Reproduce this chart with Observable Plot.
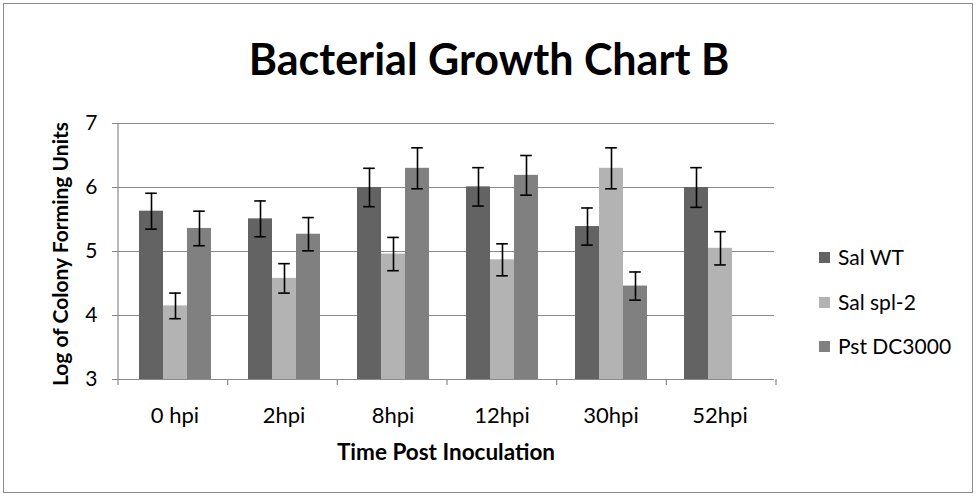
<!DOCTYPE html>
<html><head><meta charset="utf-8">
<script src="https://cdn.jsdelivr.net/npm/d3@7"></script>
<script src="https://cdn.jsdelivr.net/npm/@observablehq/plot@0.6"></script>
<style>
body{margin:0;background:#fff;}
#chart{position:relative;width:979px;height:498px;font-family:Lato,"Open Sans",sans-serif;color:#000;overflow:hidden;}
#border{position:absolute;left:3px;top:3px;width:970px;height:490px;border:1px solid #8a8a8a;box-sizing:border-box;}
#title{position:absolute;left:489px;top:34px;transform:translateX(-50%);text-align:center;font-weight:bold;font-size:43px;line-height:50px;white-space:nowrap;}
#ylabel{position:absolute;left:60px;top:254px;transform:translate(-50%,-50%) rotate(-90deg);white-space:nowrap;font-weight:bold;font-size:21px;line-height:26px;}
#xlabel{position:absolute;left:446px;top:441px;transform:translateX(-50%);white-space:nowrap;font-weight:bold;font-size:22.5px;line-height:22px;}
#legend{position:absolute;left:819px;top:0;}
.li{position:absolute;left:0;white-space:nowrap;font-size:21px;line-height:26px;transform:translateY(-50%);display:flex;align-items:center;}
.sw{display:inline-block;width:11px;height:11px;margin-right:8px;}
#plot{position:absolute;left:0;top:0;}
</style></head><body>
<div id="chart">
  <div id="border"></div>
  <div id="plot"></div>
  <div id="title">Bacterial Growth Chart B</div>
  <div id="ylabel">Log of Colony Forming Units</div>
  <div id="xlabel">Time Post Inoculation</div>
  <div id="legend"></div>
</div>
<script>
const times = ["0 hpi","2hpi","8hpi","12hpi","30hpi","52hpi"];
const seriesNames = ["Sal WT","Sal spl-2","Pst DC3000"];
const seriesColors = ["#636363","#b3b3b3","#808080"];
const salWT = [5.63,5.51,6.00,6.01,5.39,6.00];
const salWTErr = [0.28,0.28,0.30,0.30,0.29,0.31];
const salSpl2 = [4.15,4.58,4.96,4.87,6.30,5.05];
const salSpl2Err = [0.20,0.23,0.26,0.25,0.32,0.26];
const pstDC3000 = [5.36,5.27,6.30,6.19,4.46,null];
const pstDC3000Err = [0.27,0.26,0.32,0.31,0.22,null];
const yTicks = [3,4,5,6,7];

const values = [salWT, salSpl2, pstDC3000];
const errs = [salWTErr, salSpl2Err, pstDC3000Err];
const rows = [];
times.forEach((t, i) => seriesNames.forEach((s, j) => {
  if (values[j][i] != null) rows.push({time: t, series: s, value: values[j][i], lo: values[j][i] - errs[j][i], hi: values[j][i] + errs[j][i]});
}));
const base = yTicks[0];
const gridColor = "#8a8a8a";

const plot = Plot.plot({
  width: 979, height: 498,
  marginLeft: 118, marginRight: 203, marginTop: 123, marginBottom: 119,
  style: {fontFamily: "Lato, 'Open Sans', sans-serif", fontSize: "21px", color: "#000", background: "transparent"},
  fx: {domain: times, padding: 0, label: null},
  x: {domain: seriesNames, paddingInner: 0, paddingOuter: 0.73, axis: null},
  y: {domain: [yTicks[0], yTicks[yTicks.length-1]], label: null},
  color: {domain: seriesNames, range: seriesColors},
  marks: [
    Plot.gridY(yTicks.slice(1), {stroke: gridColor, strokeOpacity: 1, strokeWidth: 1.2}),
    Plot.barY(rows, {fx: "time", x: "series", y1: () => base, y2: "value", fill: "series"}),
    Plot.ruleX(rows, {fx: "time", x: "series", y1: "lo", y2: "hi", stroke: "#000", strokeWidth: 1.6}),
    Plot.tickY(rows, {fx: "time", x: "series", y: "lo", stroke: "#000", strokeWidth: 1.6, insetLeft: 6.2, insetRight: 6.2}),
    Plot.tickY(rows, {fx: "time", x: "series", y: "hi", stroke: "#000", strokeWidth: 1.6, insetLeft: 6.2, insetRight: 6.2}),
    Plot.ruleY([base], {stroke: gridColor, strokeWidth: 1.2}),
    Plot.axisY({ticks: yTicks, tickFormat: d3.format("d"), tickSize: 8, tickPadding: 15, stroke: gridColor, fill: "#000", label: null, fontSize: 21}),
    Plot.axisFx({anchor: "bottom", tickSize: 0, tickPadding: 28, label: null, fontSize: 22, fill: "#000"})
  ]
});
document.getElementById("plot").appendChild(plot);

// y axis line and category boundary ticks, positioned from the plot's own scales
const fx = plot.scale("fx");
const ys = plot.scale("y");
const step = (fx.range[1] - fx.range[0]) / fx.domain.length;
const yBase = ys.range[0], yTop = ys.range[1];
const svg = d3.select(plot);
const g = svg.append("g").attr("stroke", gridColor).attr("stroke-width", 1.2);
g.append("line").attr("x1", fx.range[0]).attr("x2", fx.range[0]).attr("y1", yTop).attr("y2", yBase);
d3.range(fx.domain.length + 1).forEach(i => {
  const x = fx.range[0] + i * step;
  g.append("line").attr("x1", x).attr("x2", x).attr("y1", yBase).attr("y2", yBase + 6);
});

// legend
const legendY = [257, 302, 346];
const legend = document.getElementById("legend");
seriesNames.forEach((s, j) => {
  const d = document.createElement("div");
  d.className = "li";
  d.style.top = legendY[j] + "px";
  d.innerHTML = `<span class="sw" style="background:${seriesColors[j]}"></span><span>${s}</span>`;
  legend.appendChild(d);
});
</script>
</body></html>
